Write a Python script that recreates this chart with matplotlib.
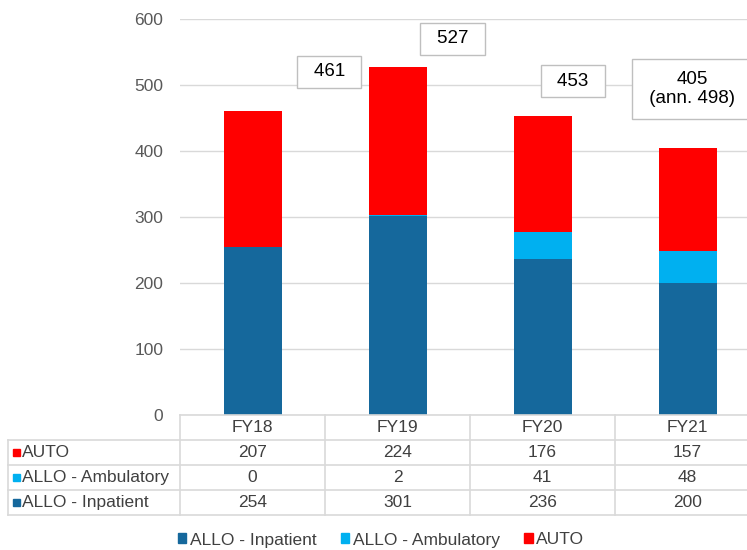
import matplotlib.pyplot as plt
from matplotlib.lines import Line2D
from matplotlib.patches import Patch, Rectangle
from matplotlib.transforms import blended_transform_factory

plt.rcParams['font.family'] = ['Liberation Sans', 'DejaVu Sans']

# data
years = ['FY18', 'FY19', 'FY20', 'FY21']
allo_inpatient = [254, 301, 236, 200]
allo_ambulatory = [0, 2, 41, 48]
auto = [207, 224, 176, 157]
annualised_fy21 = 498

c_inp = '#15689C'
c_amb = '#00B0F0'
c_auto = '#FF0000'

W, H = 747, 550
fig = plt.figure(figsize=(W / 100, H / 100), dpi=100)

def fx(px):  # pixel -> figure fraction
  return px / W

def fy(py):
  return 1 - py / H

# plot area runs a little past the right edge, like the original
ax = fig.add_axes([fx(180), fy(415), fx(580), (415 - 19) / H])
x = list(range(len(years)))
bottom2 = [a + b for a, b in zip(allo_inpatient, allo_ambulatory)]
ax.bar(x, allo_inpatient, width=0.4, color=c_inp, zorder=2)
ax.bar(x, allo_ambulatory, width=0.4, bottom=allo_inpatient, color=c_amb, zorder=2)
ax.bar(x, auto, width=0.4, bottom=bottom2, color=c_auto, zorder=2)

ax.set_xlim(-0.5, len(years) - 0.5)
ax.set_ylim(0, 600)
ax.set_yticks(range(0, 601, 100))
ax.yaxis.grid(True, color='#D9D9D9', lw=1)
ax.set_axisbelow(True)
ax.set_xticks([])
for s in ax.spines.values():
  s.set_visible(False)
ax.tick_params(axis='y', length=0, pad=12, labelsize=12.5, labelcolor='#595959')

# total boxes
totals = [a + b + c for a, b, c in zip(allo_inpatient, allo_ambulatory, auto)]
box_pos = [(0.53, 520), (1.38, 570), (2.21, 506), (3.03, 494)]
labels = [f' \u2009{t}\u2009 ' for t in totals]
labels[-1] = f'{totals[-1]}\n (ann. {annualised_fy21}) '
pads = [0.4, 0.4, 0.4, 0.63]
for (bx, by), lab, pd in zip(box_pos, labels, pads):
  ax.text(bx, by, lab, ha='center', va='center', fontsize=13.5, color='black',
          linespacing=1.15, multialignment='center',
          bbox=dict(boxstyle=f'square,pad={pd}', fc='white', ec='#BFBFBF', lw=1),
          zorder=5, clip_on=False)

# data table below
tr = blended_transform_factory(ax.transData, fig.transFigure)
grid_c = '#D9D9D9'
def hline(y, x0, x1):
  fig.add_artist(Line2D([fx(x0), fx(x1)], [fy(y), fy(y)], color=grid_c, lw=1.2))
def vline(xp, y0, y1):
  fig.add_artist(Line2D([fx(xp), fx(xp)], [fy(y0), fy(y1)], color=grid_c, lw=1.2))

hline(415, 180, 760)
for yy in [440, 465, 490, 515]:
  hline(yy, 8, 760)
for xp in [180, 325, 470, 615, 760]:
  vline(xp, 415, 515)
vline(8, 440, 515)

txt_c = '#404040'
fs = 12.5
for i, yr in enumerate(years):
  ax.text(i, fy(428), yr, transform=tr, ha='center', va='center', fontsize=fs, color=txt_c)

rows = [('AUTO', auto, c_auto), ('ALLO - Ambulatory', allo_ambulatory, c_amb),
        ('ALLO - Inpatient', allo_inpatient, c_inp)]
for r, (name, vals, col) in enumerate(rows):
  yc = 452.5 + 25 * r
  fig.patches.append(Rectangle((fx(13), fy(yc + 3.5)), fx(7), 7 / H, color=col,
                               transform=fig.transFigure))
  fig.text(fx(22), fy(yc), name, ha='left', va='center', fontsize=fs, color=txt_c)
  for i, v in enumerate(vals):
    ax.text(i, fy(yc), str(v), transform=tr, ha='center', va='center', fontsize=fs, color=txt_c)

# legend
handles = [Patch(color=c_inp, label='ALLO - Inpatient'),
           Patch(color=c_amb, label='ALLO - Ambulatory'),
           Patch(color=c_auto, label='AUTO')]
leg = fig.legend(handles=handles, loc='center', bbox_to_anchor=(fx(381), fy(540)), ncol=3,
                 frameon=False, fontsize=fs, handlelength=0.5, handleheight=0.5,
                 handletextpad=0.2, columnspacing=1.4)
for t in leg.get_texts():
  t.set_color(txt_c)

fig.savefig('out.png', dpi=100)
